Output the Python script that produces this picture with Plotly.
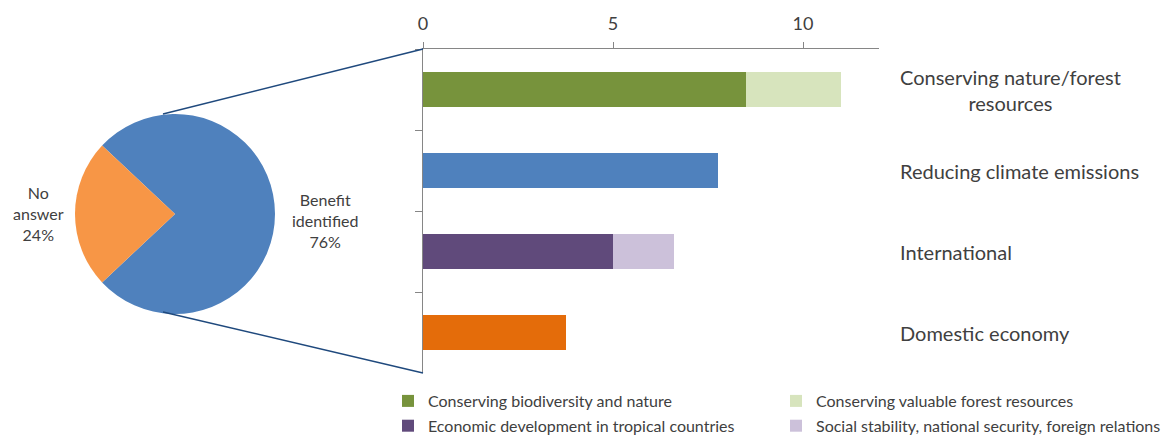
import plotly.graph_objects as go

# ---- data ----
pie_labels = ["Benefit identified", "No answer"]
pie_values = [76, 24]
pie_colors = ["#4F81BD", "#F79646"]

categories = [
    "Conserving nature/forest resources",
    "Reducing climate emissions",
    "International",
    "Domestic economy",
]
category_text = [
    "Conserving nature/forest<br>resources",
    "Reducing climate emissions",
    "International",
    "Domestic economy",
]

# stacked bar segments: (name, category, value, colour, legend column)
seg_names = [
    "Conserving biodiversity and nature",
    "Conserving valuable forest resources",
    "Reducing climate emissions",
    "Economic development in tropical countries",
    "Social stability, national security, foreign relations",
    "Domestic economy",
]
seg_category = [categories[0], categories[0], categories[1],
                categories[2], categories[2], categories[3]]
seg_values = [8.5, 2.5, 7.75, 5.0, 1.6, 3.75]
seg_colors = ["#77933C", "#D7E4BD", "#4F81BD", "#604A7B", "#CCC1DA", "#E46C0A"]
seg_legend = ["legend", "legend2", None, "legend", "legend2", None]

x_ticks = [0, 5, 10]
x_max = 12

# ---- layout geometry (pixels) ----
W, H = 1167, 436
bar_left, bar_right = 423, 879
bar_top, bar_bottom = 49, 373
pie_cx, pie_cy, pie_r = 175, 214, 100

def px(x):
    return x / W

def py(y):
    return 1 - y / H

FONT = "Lato"
TXT = "#404040"

fig = go.Figure()

# pie: no-answer wedge centred on the left side
no_share = pie_values[1] / sum(pie_values) * 360
fig.add_trace(go.Pie(
    labels=pie_labels, values=pie_values, sort=False,
    direction="clockwise", rotation=-(90 - no_share / 2),
    marker=dict(colors=pie_colors, line=dict(width=0)),
    textinfo="none", showlegend=False,
    domain=dict(x=[px(pie_cx - pie_r), px(pie_cx + pie_r)],
                y=[py(pie_cy + pie_r), py(pie_cy - pie_r)]),
))

for name, cat, val, col, lg in zip(seg_names, seg_category, seg_values,
                                   seg_colors, seg_legend):
    fig.add_trace(go.Bar(
        x=[val], y=[cat], orientation="h", name=name,
        marker=dict(color=col, line=dict(width=0)),
        showlegend=lg is not None, legend=lg or "legend",
        legendgroup=name,
    ))

# category labels to the right of the bars
for cat, txt in zip(categories, category_text):
    fig.add_annotation(
        x=px(898), xref="paper", y=cat, yref="y",
        text=txt, showarrow=False, xanchor="left", yanchor="middle",
        align="center",
        font=dict(family=FONT, size=20, color=TXT),
    )

# pie labels
total = sum(pie_values)
pie_label_pos = [(325, 220), (38, 213)]
for lab, val, (lx, ly) in zip(pie_labels, pie_values, pie_label_pos):
    fig.add_annotation(
        x=px(lx), y=py(ly), xref="paper", yref="paper",
        xanchor="center", yanchor="middle",
        text=lab.replace(" ", "<br>") + f"<br>{round(val / total * 100)}%",
        showarrow=False, align="center",
        font=dict(family=FONT, size=16, color=TXT),
    )

# connector lines from the pie to the bar panel
line_style = dict(color="#1F497D", width=1.5)
fig.add_shape(type="line", xref="paper", yref="paper",
              x0=px(163), y0=py(114), x1=px(bar_left), y1=py(bar_top),
              line=line_style)
fig.add_shape(type="line", xref="paper", yref="paper",
              x0=px(163), y0=py(312), x1=px(bar_left), y1=py(bar_bottom),
              line=line_style)

axis_grey = "#868686"
legend_font = dict(family=FONT, size=16, color=TXT)
fig.update_layout(
    width=W, height=H,
    margin=dict(l=0, r=0, t=0, b=0, autoexpand=False),
    paper_bgcolor="white", plot_bgcolor="white",
    barmode="stack", bargap=0.58,
    xaxis=dict(
        domain=[px(bar_left), px(bar_right)], range=[0, x_max],
        side="top", tickvals=x_ticks, showgrid=False, zeroline=False,
        showline=True, linecolor=axis_grey, linewidth=1,
        ticks="outside", ticklen=6, tickcolor=axis_grey,
        ticklabelstandoff=5,
        tickfont=dict(family=FONT, size=18, color=TXT),
    ),
    yaxis=dict(
        domain=[py(bar_bottom), py(bar_top)],
        type="category", categoryorder="array", categoryarray=categories,
        autorange="reversed", showticklabels=False, showgrid=False,
        zeroline=False, showline=True, linecolor=axis_grey, linewidth=1,
        ticks="outside", tickson="boundaries", ticklen=7, tickcolor=axis_grey,
    ),
    legend=dict(x=px(388), y=py(384), xanchor="left", yanchor="top",
                orientation="v", font=legend_font, tracegroupgap=1,
                bgcolor="rgba(0,0,0,0)"),
    legend2=dict(x=px(776), y=py(384), xanchor="left", yanchor="top",
                 orientation="v", font=legend_font, tracegroupgap=1,
                 bgcolor="rgba(0,0,0,0)"),
)

fig.write_html("out.html")
